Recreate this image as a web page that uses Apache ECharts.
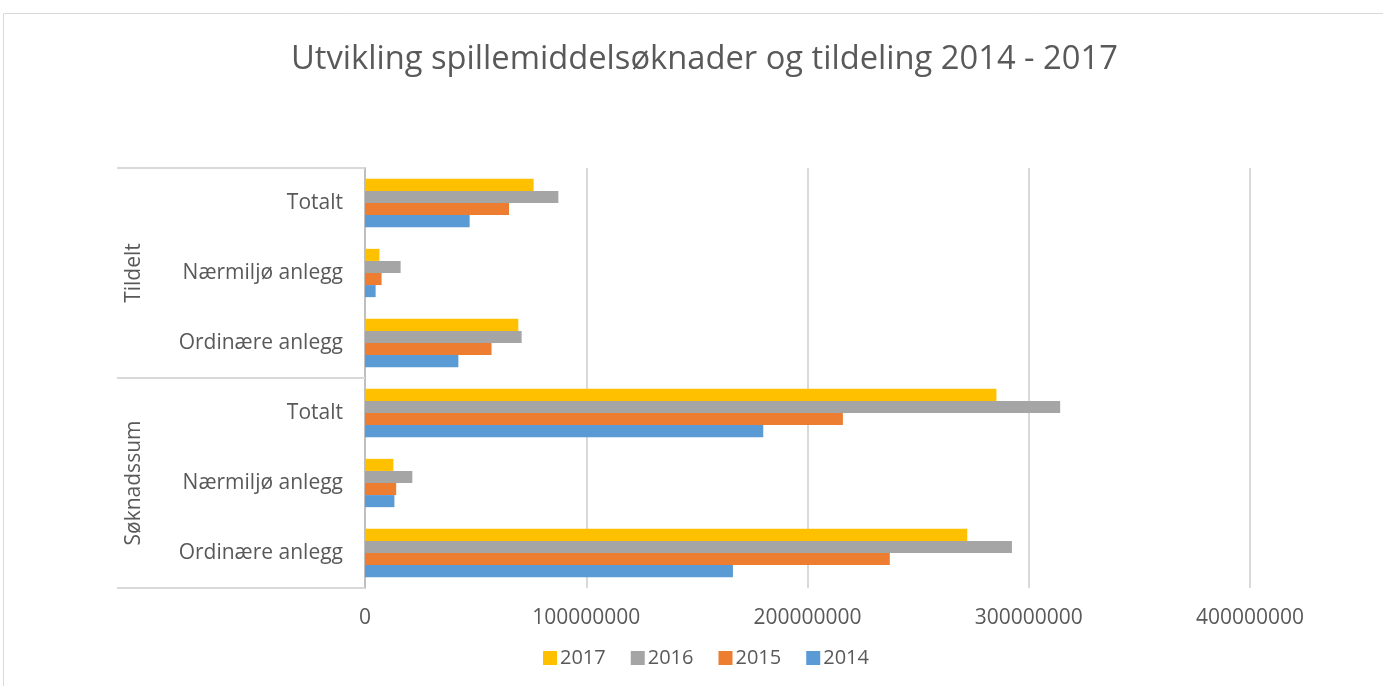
<!DOCTYPE html>
<html><head><meta charset="utf-8">
<script src="https://cdn.jsdelivr.net/npm/echarts@6/dist/echarts.min.js"></script>
<style>html,body{margin:0;padding:0;background:#fff}#c{width:1383px;height:686px}</style>
</head><body><div id="c"></div>
<script>
// Categories bottom -> top
const groups = ['Søknadssum', 'Tildelt'];
const categories = ['Ordinære anlegg', 'Nærmiljø anlegg', 'Totalt', 'Ordinære anlegg', 'Nærmiljø anlegg', 'Totalt'];
const years = ['2017', '2016', '2015', '2014'];
const v2017 = [272200000, 12800000, 285400000, 69300000, 6500000, 76200000];
const v2016 = [292400000, 21400000, 314200000, 70800000, 16100000, 87400000];
const v2015 = [237200000, 14100000, 216000000, 57200000, 7500000, 65100000];
const v2014 = [166300000, 13300000, 180000000, 42200000, 4800000, 47300000];
const xTicks = [0, 100000000, 200000000, 300000000, 400000000];
const colors = ['#FFC000', '#A5A5A5', '#ED7D31', '#5B9BD5'];
const seriesValues = [v2017, v2016, v2015, v2014];

const FONT = 'Open Sans';
const chart = echarts.init(document.getElementById('c'));
chart.setOption({
  animation: false,
  title: {
    text: 'Utvikling spillemiddelsøknader og tildeling 2014 - 2017',
    left: 286, top: 38,
    textStyle: { fontFamily: FONT, fontSize: 32.7, fontWeight: 'normal', color: '#595959' }
  },
  graphic: [{
    type: 'rect', shape: { x: 3.5, y: 13.5, width: 1500, height: 800 },
    style: { fill: 'none', stroke: '#d9d9d9', lineWidth: 1 }, silent: true, z: -10
  }],
  legend: {
    data: years, bottom: 13, left: 538, itemWidth: 14, itemHeight: 14, itemGap: 25,
    icon: 'rect',
    textStyle: { fontFamily: FONT, fontSize: 20, color: '#595959', padding: [0, 0, 0, -2] }
  },
  grid: { left: 365, right: 133, top: 168, bottom: 98, containLabel: false },
  xAxis: {
    type: 'value', min: xTicks[0], max: xTicks[xTicks.length - 1], interval: xTicks[1] - xTicks[0],
    axisLine: { show: false }, axisTick: { show: false },
    splitLine: { lineStyle: { color: '#d9d9d9', width: 2 } },
    axisLabel: { fontFamily: FONT, fontSize: 21, color: '#595959', margin: 20,
      formatter: v => String(v) }
  },
  yAxis: [{
    type: 'category', data: categories, position: 'left',
    axisLine: { show: true, lineStyle: { color: '#bfbfbf', width: 2 } },
    axisTick: { show: false },
    axisLabel: { fontFamily: FONT, fontSize: 21, color: '#595959', margin: 22 }
  }, {
    type: 'category', data: groups, position: 'left', offset: 248,
    axisLine: { show: false },
    axisTick: { show: true, inside: true, length: 248, lineStyle: { color: '#d9d9d9', width: 2 } },
    axisLabel: { inside: true, rotate: 90, margin: 7, fontFamily: FONT, fontSize: 21, color: '#595959' }
  }],
  series: years.map((y, i) => ({
    name: y, type: 'bar', yAxisIndex: 0, data: seriesValues[i],
    itemStyle: { color: colors[i] },
    barGap: '0%', barCategoryGap: '31%'
  }))
});
</script></body></html>
